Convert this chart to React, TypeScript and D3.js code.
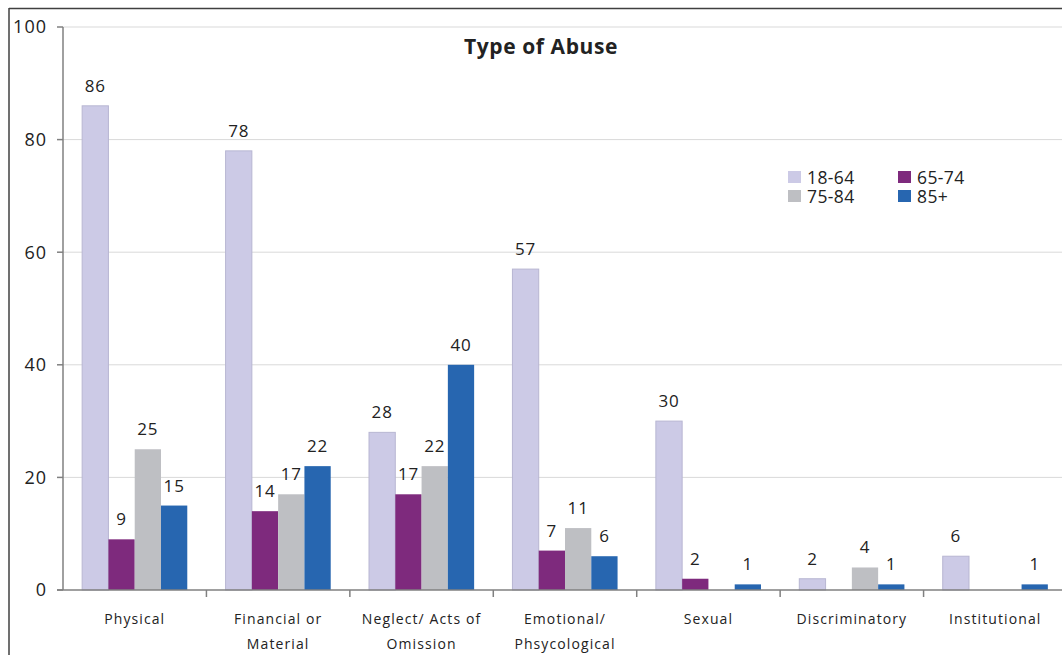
import React from "react";
import * as d3 from "d3";

// Abuse categories and counts per age group
const categories = [
  ["Physical"],
  ["Financial or", "Material"],
  ["Neglect/ Acts of", "Omission"],
  ["Emotional/", "Phsycological"],
  ["Sexual"],
  ["Discriminatory"],
  ["Institutional"],
];
const ageGroups = ["18-64", "65-74", "75-84", "85+"];
const values18to64 = [86, 78, 28, 57, 30, 2, 6];
const values65to74 = [9, 14, 17, 7, 2, null, null];
const values75to84 = [25, 17, 22, 11, null, 4, null];
const values85plus = [15, 22, 40, 6, 1, 1, 1];
const yTicks = [0, 20, 40, 60, 80, 100];

const seriesValues = [values18to64, values65to74, values75to84, values85plus];
const colors = ["#CCCAE6", "#7E2A7D", "#BEBFC3", "#2766B0"];
const strokes = ["#B8B6D2", "none", "none", "none"];

const W = 1062;
const H = 655;
const FONT = "'Open Sans', 'Noto Sans', sans-serif";

export default function App() {
  const left = 63;
  const right = 1067;
  const top = 27;
  const bottom = 590;

  const x = d3
    .scaleBand<number>()
    .domain(categories.map((_, i) => i))
    .range([left, right])
    .paddingInner(0)
    .paddingOuter(0);
  const bw = x.bandwidth();
  const groupW = bw * 0.733;
  const sub = d3
    .scaleBand<number>()
    .domain(ageGroups.map((_, i) => i))
    .range([(bw - groupW) / 2, (bw + groupW) / 2]);
  const y = d3.scaleLinear().domain([0, 100]).range([bottom, top]);

  return (
    <svg
      width={W}
      height={H}
      style={{ position: "absolute", left: 0, top: 0, background: "#fff" }}
      fontFamily={FONT}
    >
      {/* outer frame */}
      <line x1={9} y1={8.5} x2={W} y2={8.5} stroke="#404040" strokeWidth={1.5} />
      <line x1={9} y1={8} x2={9} y2={H} stroke="#404040" strokeWidth={1.5} />

      {/* gridlines */}
      {yTicks
        .filter((t) => t > 0)
        .map((t) => (
          <line key={t} x1={left} x2={W} y1={y(t)} y2={y(t)} stroke="#D9D9D9" strokeWidth={1} />
        ))}

      {/* bars */}
      {seriesValues.map((vals, s) =>
        vals.map((v, i) =>
          v == null ? null : (
            <rect
              key={`${s}-${i}`}
              x={(x(i) as number) + (sub(s) as number)}
              y={y(v)}
              width={sub.bandwidth()}
              height={y(0) - y(v)}
              fill={colors[s]}
              stroke={strokes[s]}
              strokeWidth={1}
            />
          )
        )
      )}

      {/* value labels */}
      {seriesValues.map((vals, s) =>
        vals.map((v, i) =>
          v == null ? null : (
            <text
              key={`l-${s}-${i}`}
              x={(x(i) as number) + (sub(s) as number) + sub.bandwidth() / 2}
              y={y(v) - 14}
              textAnchor="middle"
              fontSize={17}
              letterSpacing={0.8}
              fill="#222"
            >
              {v}
            </text>
          )
        )
      )}

      {/* y axis */}
      <line x1={left} x2={left} y1={top} y2={bottom} stroke="#808080" strokeWidth={1.5} />
      {yTicks.map((t) => (
        <g key={`yt-${t}`}>
          <line x1={left - 6} x2={left} y1={y(t)} y2={y(t)} stroke="#808080" strokeWidth={1.5} />
          <text x={47} y={y(t)} dy="0.35em" textAnchor="end" fontSize={18} letterSpacing={1} fill="#222">
            {t}
          </text>
        </g>
      ))}

      {/* x axis */}
      <line x1={left - 6} x2={W} y1={bottom} y2={bottom} stroke="#808080" strokeWidth={1.5} />
      {categories.map((_, i) => (
        <line
          key={`xt-${i}`}
          x1={(x(i) as number) + bw}
          x2={(x(i) as number) + bw}
          y1={bottom}
          y2={bottom + 7}
          stroke="#808080"
          strokeWidth={1.5}
        />
      ))}
      {categories.map((lines, i) => (
        <text
          key={`xl-${i}`}
          x={(x(i) as number) + bw / 2}
          y={624}
          textAnchor="middle"
          fontSize={14}
          letterSpacing={1.1}
          fill="#222"
        >
          {lines.map((ln, k) => (
            <tspan key={k} x={(x(i) as number) + bw / 2} dy={k === 0 ? 0 : 25}>
              {ln}
            </tspan>
          ))}
        </text>
      ))}

      {/* title */}
      <text x={541} y={54} textAnchor="middle" fontSize={21} letterSpacing={0.6} fontWeight="bold" fill="#222">
        Type of Abuse
      </text>

      {/* legend */}
      {ageGroups.map((g, i) => {
        const col = i % 2;
        const row = Math.floor(i / 2);
        const lx = 788 + col * 110;
        const ly = 171 + row * 19;
        return (
          <g key={g}>
            <rect x={lx} y={ly} width={13} height={12} fill={colors[i]} />
            <text x={lx + 19} y={ly + 13} fontSize={17.5} letterSpacing={0.4} fill="#222">
              {g}
            </text>
          </g>
        );
      })}
    </svg>
  );
}
